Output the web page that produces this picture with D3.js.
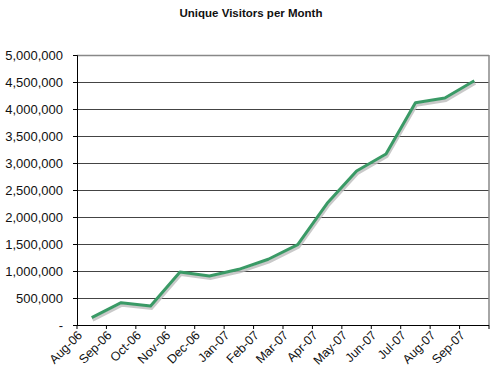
<!DOCTYPE html>
<html><head><meta charset="utf-8">
<script src="https://cdn.jsdelivr.net/npm/d3@7"></script>
<style>body{margin:0;background:#fff}svg{display:block}</style>
</head><body>
<svg id="c" width="500" height="381"></svg>
<script>
const months = ["Aug-06","Sep-06","Oct-06","Nov-06","Dec-06","Jan-07","Feb-07","Mar-07","Apr-07","May-07","Jun-07","Jul-07","Aug-07","Sep-07"];
const visitors = [135000,413000,352000,981000,907000,1031000,1217000,1490000,2254000,2852000,3167000,4117000,4204000,4524000];
const yTicks = [0,500000,1000000,1500000,2000000,2500000,3000000,3500000,4000000,4500000,5000000];

const svg = d3.select("#c");
const L=77,R=489,T=55,B=325;
const x = d3.scaleBand().domain(months).range([L,R]);
const y = d3.scaleLinear().domain([0,5000000]).range([B,T]);
const font = "Liberation Sans, Arial, sans-serif";

svg.append("text").attr("x",251).attr("y",17).attr("text-anchor","middle")
  .attr("font-family",font).attr("font-weight","bold").attr("font-size",11.5).attr("fill","#111")
  .text("Unique Visitors per Month");

// gridlines
svg.append("g").selectAll("line").data(yTicks.filter(d=>d>0)).join("line")
  .attr("x1",L).attr("x2",R).attr("y1",d=>Math.round(y(d))+0.5).attr("y2",d=>Math.round(y(d))+0.5)
  .attr("stroke",d=>d===5000000?"#888":"#444").attr("stroke-width",d=>d===5000000?1.5:1);
// right border
svg.append("line").attr("x1",R).attr("x2",R).attr("y1",T).attr("y2",B).attr("stroke","#888").attr("stroke-width",1.5);

// y axis
const ya = svg.append("g").attr("transform",`translate(${L},0)`)
  .call(d3.axisLeft(y).tickValues(yTicks).tickSize(4).tickPadding(10)
    .tickFormat(d=>d===0?"-":d3.format(",")(d)));
ya.select(".domain").attr("stroke","#000");
ya.selectAll("text").attr("font-family",font).attr("font-size",13).attr("fill","#111");

// x axis
const xa = svg.append("g").attr("transform",`translate(0,${B})`)
  .call(d3.axisBottom(x).tickSize(0).tickFormat(""));
xa.select(".domain").attr("stroke","#000").attr("d",`M${L},0.5H${R}`);
xa.selectAll(".tick").remove();
const bounds = months.map(m=>x(m)).concat([R]);
xa.selectAll("line.tk").data(bounds).join("line").attr("class","tk")
  .attr("x1",d=>d).attr("x2",d=>d).attr("y1",0).attr("y2",4).attr("stroke","#000");
svg.append("g").selectAll("text").data(months).join("text")
  .attr("transform",d=>`translate(${x(d)+6},${B+11}) rotate(-45)`)
  .attr("text-anchor","end").attr("font-family",font).attr("font-size",12.5).attr("fill","#111")
  .text(d=>d);

// line
const line = d3.line().x(d=>x(d.m)+x.bandwidth()/2).y(d=>y(d.v));
const pts = months.map((m,i)=>({m,v:visitors[i]}));
svg.append("path").datum(pts).attr("d",line).attr("fill","none")
  .attr("stroke","#bbb").attr("stroke-width",3).attr("opacity",0.8).attr("transform","translate(1,2.5)");
svg.append("path").datum(pts).attr("d",line).attr("fill","none")
  .attr("stroke","#3a9a66").attr("stroke-width",3).attr("stroke-linejoin","round");
</script>
</body></html>
